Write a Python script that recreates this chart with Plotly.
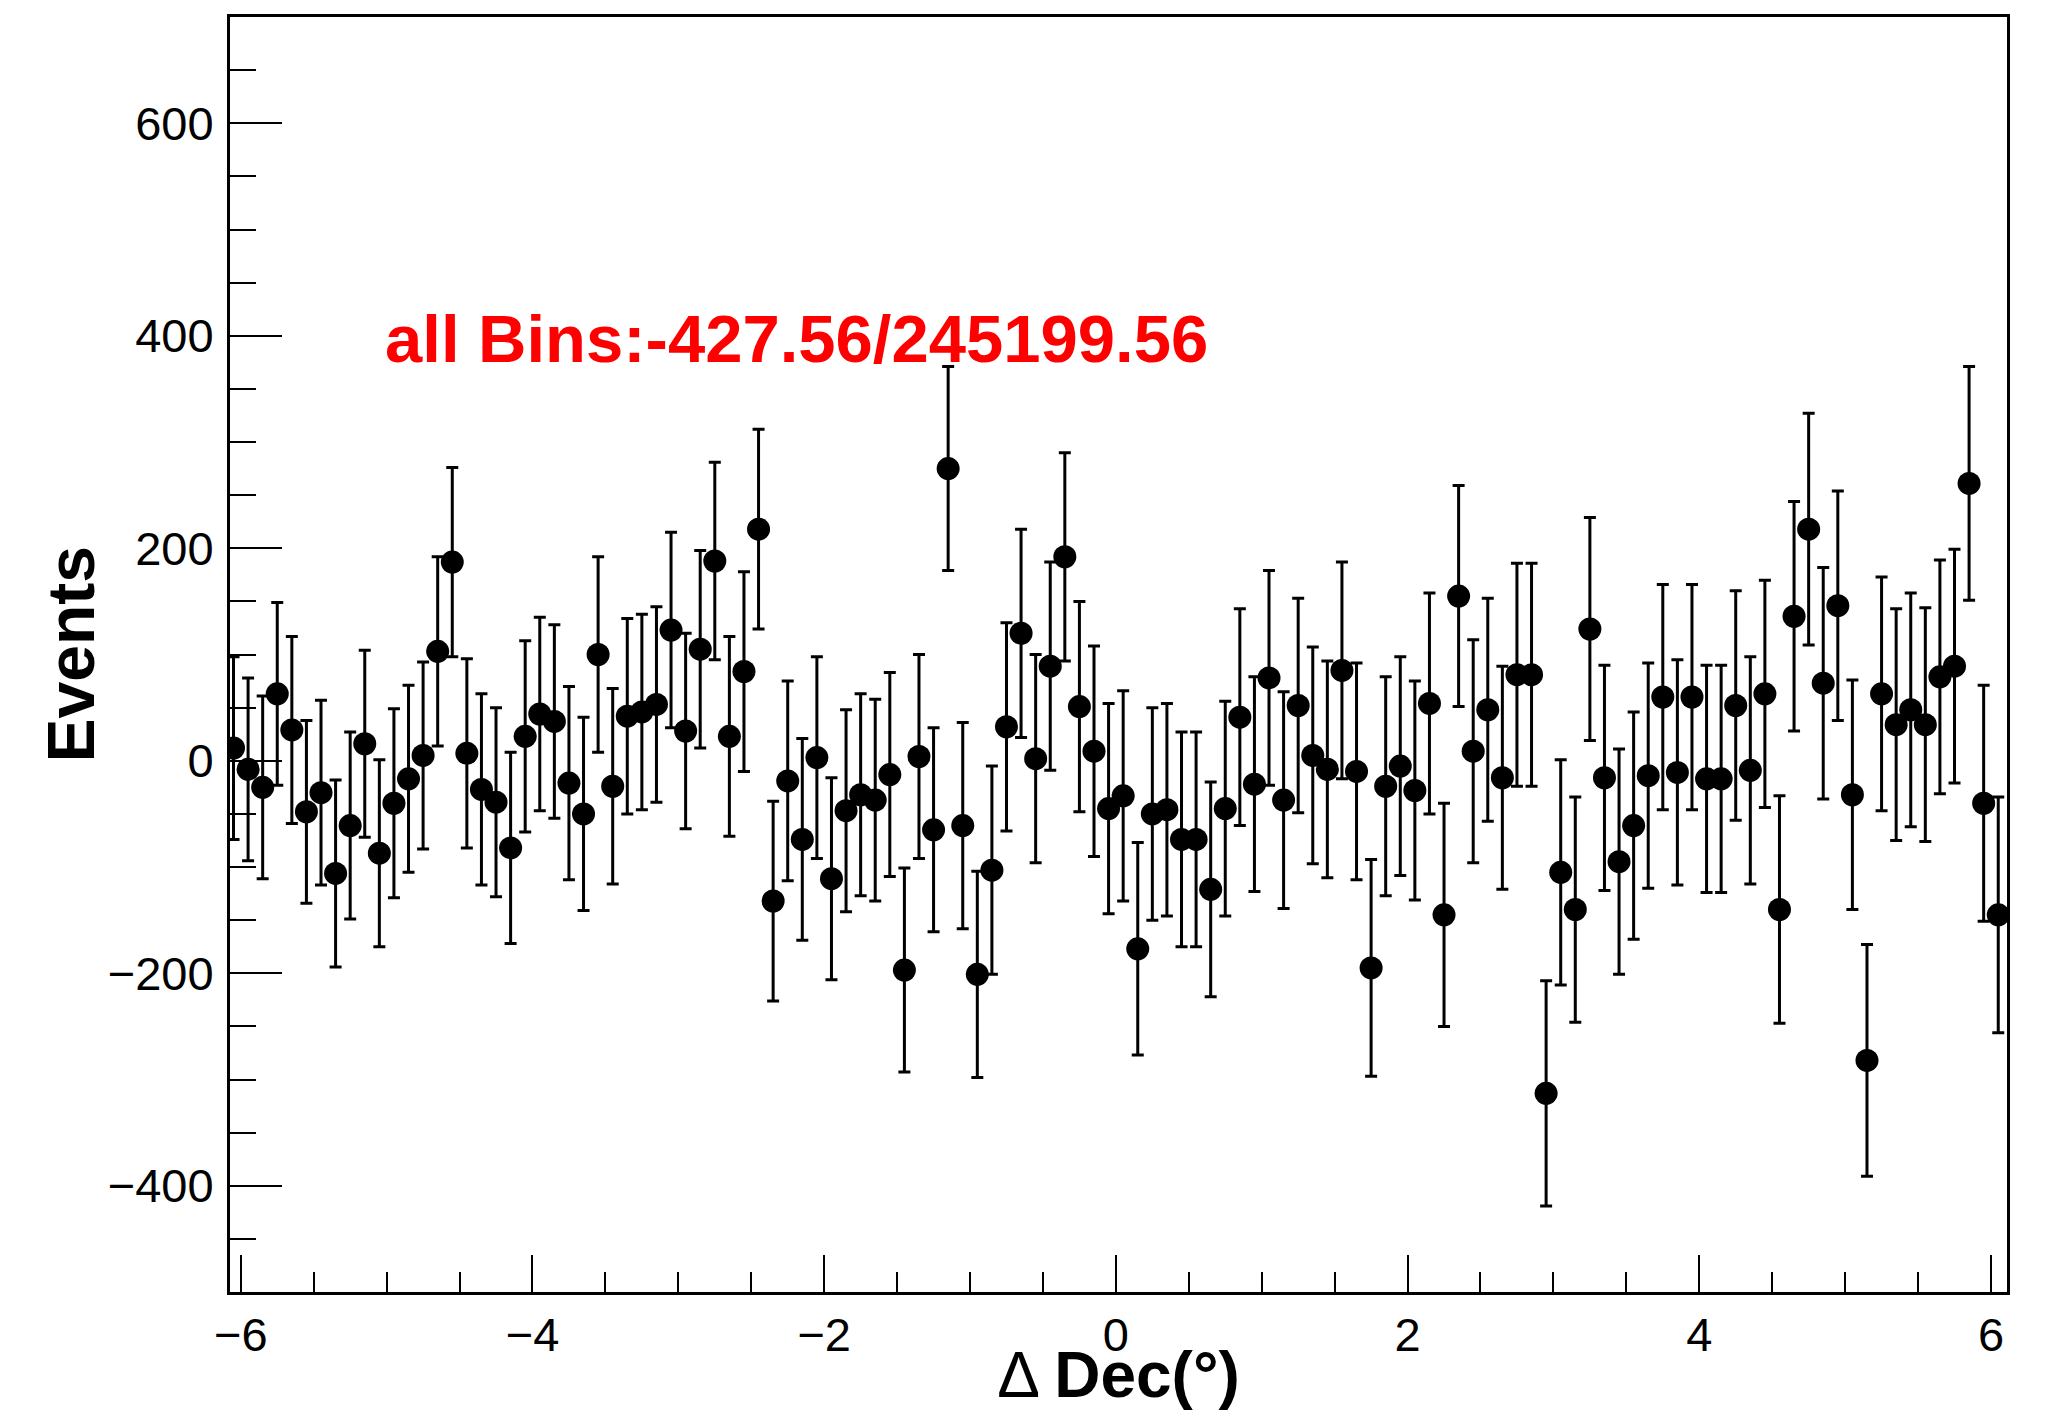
import plotly.graph_objects as go

# Bin centres (Δ Dec, degrees)
dec_centers = [
    -6.05, -5.95, -5.85, -5.75, -5.65, -5.55, -5.45, -5.35, -5.25, -5.15,
    -5.05, -4.95, -4.85, -4.75, -4.65, -4.55, -4.45, -4.35, -4.25, -4.15,
    -4.05, -3.95, -3.85, -3.75, -3.65, -3.55, -3.45, -3.35, -3.25, -3.15,
    -3.05, -2.95, -2.85, -2.75, -2.65, -2.55, -2.45, -2.35, -2.25, -2.15,
    -2.05, -1.95, -1.85, -1.75, -1.65, -1.55, -1.45, -1.35, -1.25, -1.15,
    -1.05, -0.95, -0.85, -0.75, -0.65, -0.55, -0.45, -0.35, -0.25, -0.15,
    -0.05, 0.05, 0.15, 0.25, 0.35, 0.45, 0.55, 0.65, 0.75, 0.85,
    0.95, 1.05, 1.15, 1.25, 1.35, 1.45, 1.55, 1.65, 1.75, 1.85,
    1.95, 2.05, 2.15, 2.25, 2.35, 2.45, 2.55, 2.65, 2.75, 2.85,
    2.95, 3.05, 3.15, 3.25, 3.35, 3.45, 3.55, 3.65, 3.75, 3.85,
    3.95, 4.05, 4.15, 4.25, 4.35, 4.45, 4.55, 4.65, 4.75, 4.85,
    4.95, 5.05, 5.15, 5.25, 5.35, 5.45, 5.55, 5.65, 5.75, 5.85,
    5.95, 6.05,
]

# Events per bin
events = [
    12, -8, -25, 63, 29, -48, -30, -106, -61, 16,
    -87, -40, -17, 5, 103, 187, 7, -27, -39, -82,
    23, 44, 37, -21, -50, 100, -24, 42, 46, 53,
    123, 28, 105, 188, 23, 84, 218, -132, -19, -74,
    3, -111, -47, -32, -37, -13, -197, 4, -65, 275,
    -61, -201, -103, 32, 120, 2, 89, 192, 51, 9,
    -45, -33, -177, -50, -46, -74, -74, -121, -45, 41,
    -22, 78, -37, 52, 5, -8, 85, -10, -195, -24,
    -5, -28, 54, -145, 155, 9, 48, -16, 81, 81,
    -313, -105, -140, 124, -16, -95, -61, -14, 60, -11,
    60, -17, -17, 52, -9, 63, -140, 136, 218, 73,
    146, -32, -282, 63, 34, 48, 34, 79, 89, 261,
    -40, -145,
]

# Statistical errors per bin
errors = [
    86, 86, 86, 86, 88, 86, 87, 88, 88, 88,
    88, 89, 88, 88, 89, 89, 89, 90, 89, 90,
    90, 91, 91, 91, 91, 92, 92, 92, 92, 92,
    92, 92, 93, 93, 94, 94, 94, 94, 94, 95,
    95, 95, 95, 95, 95, 96, 96, 96, 96, 96,
    97, 97, 98, 98, 98, 98, 98, 98, 99, 99,
    99, 99, 100, 100, 100, 101, 101, 101, 101, 102,
    101, 101, 102, 101, 102, 102, 102, 102, 102, 103,
    103, 103, 104, 105, 104, 105, 105, 105, 105, 105,
    106, 106, 106, 105, 106, 106, 107, 106, 106, 106,
    106, 107, 107, 108, 107, 107, 107, 108, 109, 109,
    108, 108, 109, 110, 109, 110, 110, 110, 110, 110,
    111, 111,
]

annotation_text = "all Bins:-427.56/245199.56"
x_title = "Δ <b>Dec(°)</b>"
y_title = "<b>Events</b>"

FONT = "Liberation Sans, Arial, Helvetica, sans-serif"

fig = go.Figure()
fig.add_trace(go.Scatter(
    x=dec_centers,
    y=events,
    mode="markers",
    marker=dict(symbol="circle", size=23, color="black", line=dict(width=0)),
    error_y=dict(type="data", array=errors, visible=True,
                 color="black", thickness=3, width=6),
    showlegend=False,
))

fig.add_annotation(
    x=-5.025, y=397, xref="x", yref="y",
    text="<b>" + annotation_text + "</b>",
    showarrow=False, xanchor="left", yanchor="middle",
    font=dict(family=FONT, size=67, color="#ff0000"),
)

# y-axis title placed as rotated annotation
fig.add_annotation(
    x=-0.0895, y=0.5, xref="paper", yref="paper",
    text=y_title, textangle=-90,
    showarrow=False, xanchor="center", yanchor="middle",
    font=dict(family=FONT, size=66, color="black"),
)

fig.update_layout(
    width=2045, height=1411,
    margin=dict(l=230, r=38, t=17, b=119, autoexpand=False),
    paper_bgcolor="white",
    plot_bgcolor="white",
    font=dict(family=FONT, color="black"),
    xaxis=dict(
        range=[-6.074, 6.11],
        showgrid=False, zeroline=False,
        showline=True, linecolor="black", linewidth=3, mirror=True,
        ticks="inside", ticklen=37, tickwidth=2, tickcolor="black",
        tick0=0, dtick=2,
        minor=dict(ticks="inside", ticklen=20, tickwidth=2, tickcolor="black",
                   tick0=0, dtick=0.5, showgrid=False),
        tickfont=dict(family=FONT, size=47, color="black"),
        title=dict(text=x_title, font=dict(family=FONT, size=64, color="black"),
                   standoff=4),
        automargin=False,
    ),
    yaxis=dict(
        range=[-500, 700],
        showgrid=False, zeroline=False,
        showline=True, linecolor="black", linewidth=3, mirror=True,
        ticks="inside", ticklen=52, tickwidth=2, tickcolor="black",
        tick0=0, dtick=200,
        minor=dict(ticks="inside", ticklen=26, tickwidth=2, tickcolor="black",
                   tick0=0, dtick=50, showgrid=False),
        tickfont=dict(family=FONT, size=47, color="black"),
        ticklabelstandoff=4,
        automargin=False,
    ),
)

fig.write_html("out.html")
